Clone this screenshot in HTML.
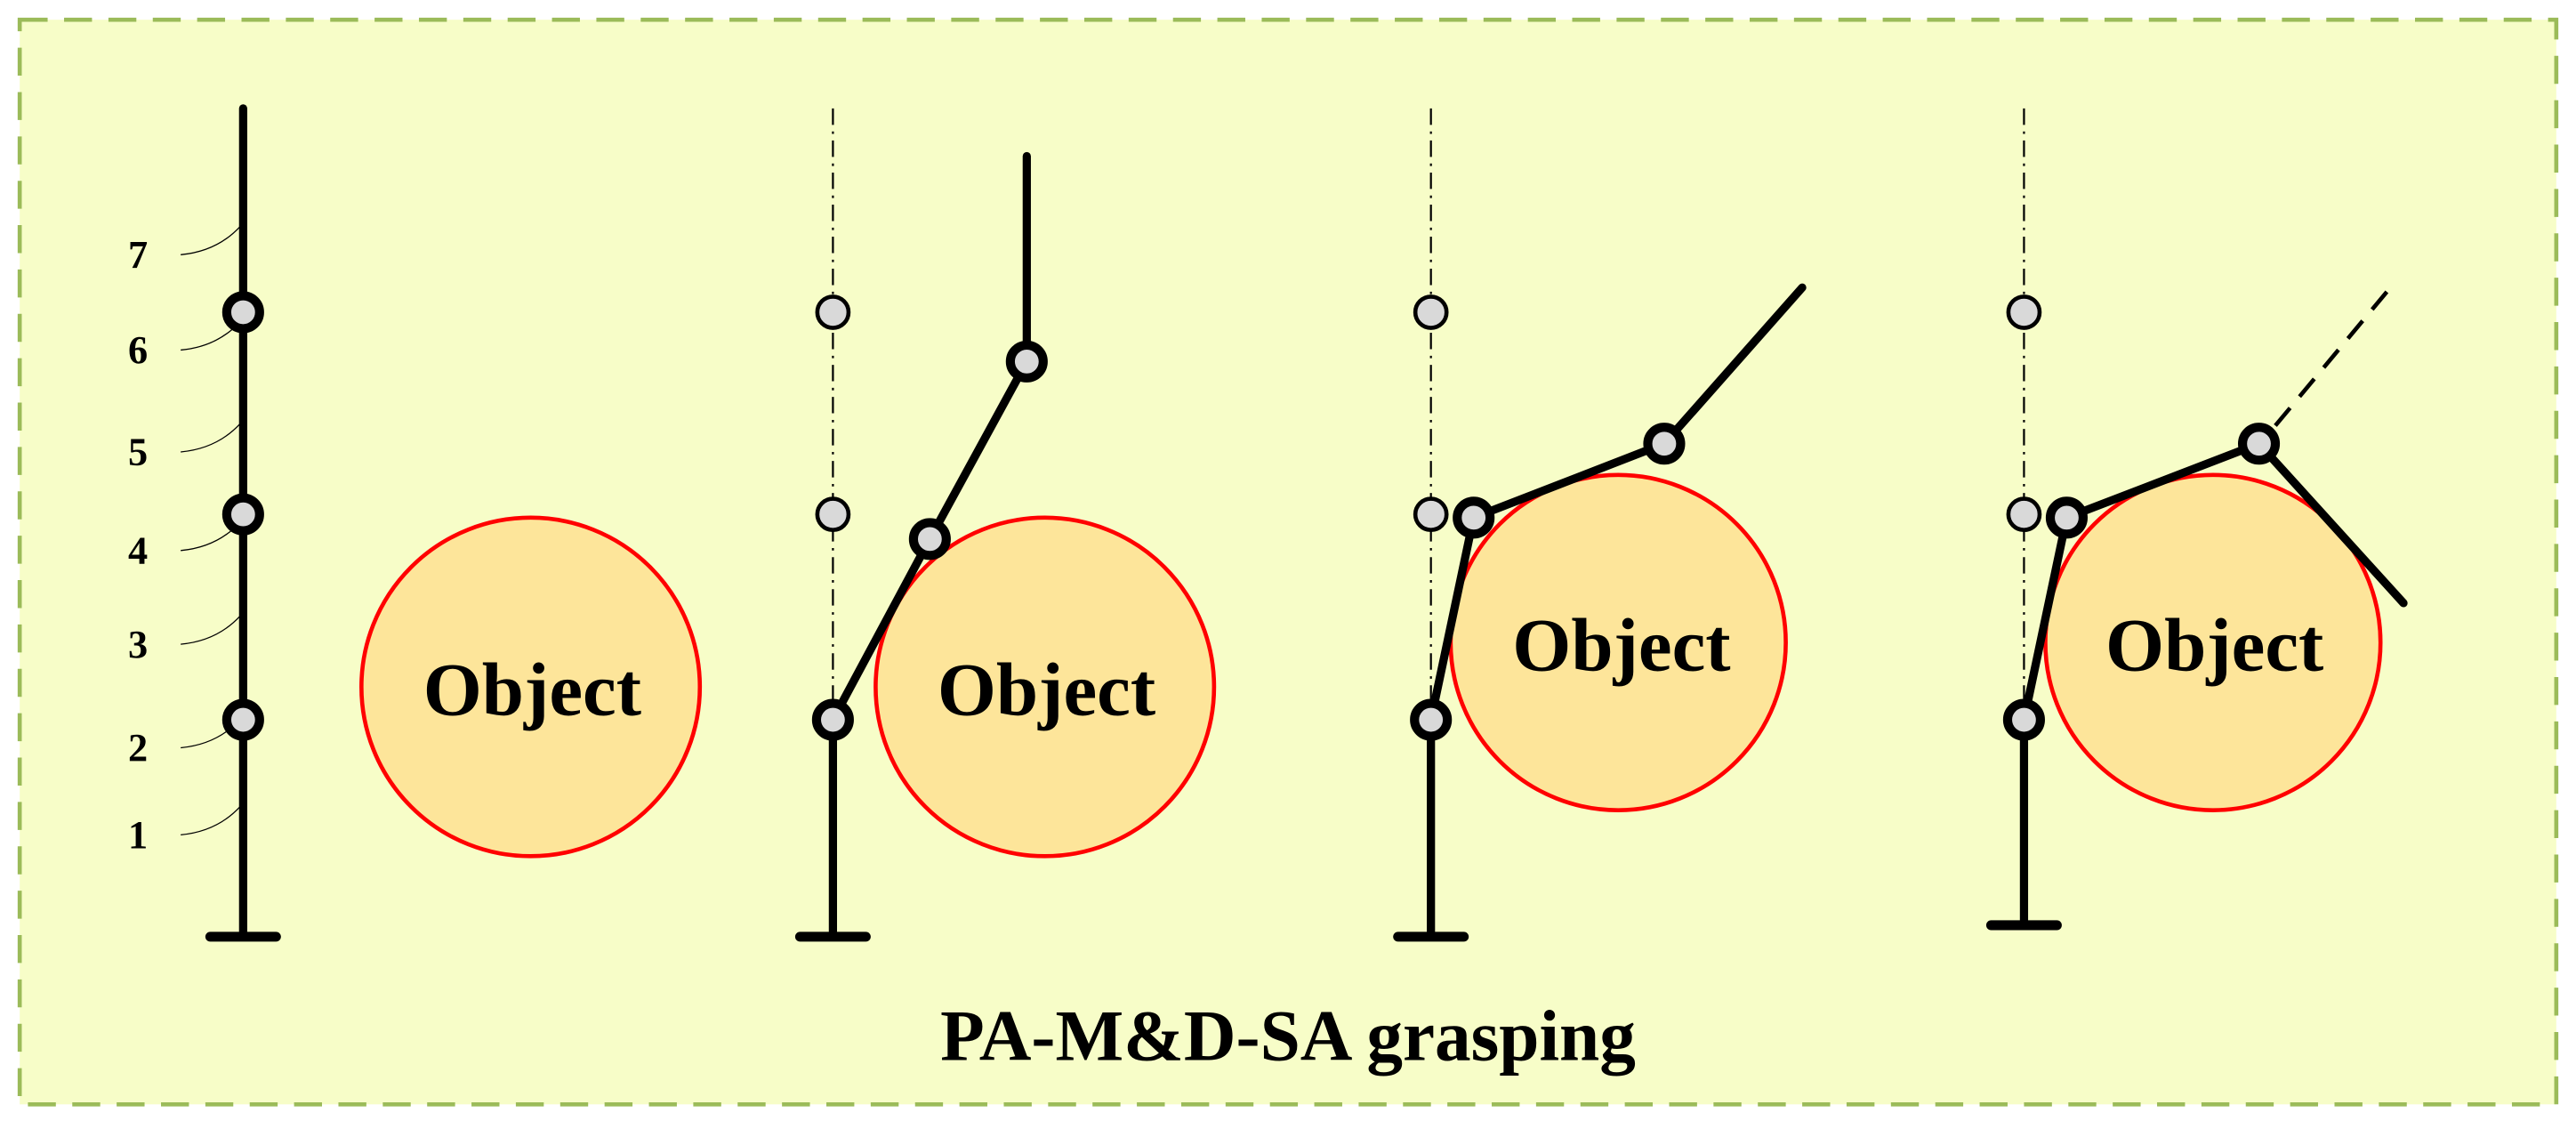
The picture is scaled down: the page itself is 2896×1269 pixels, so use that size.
<!DOCTYPE html>
<html><head><meta charset="utf-8"><style>
html,body{margin:0;padding:0;background:#fff;}
svg{display:block;}
</style></head><body>
<svg width="2896" height="1269" viewBox="0 0 1568 687" preserveAspectRatio="none" xmlns="http://www.w3.org/2000/svg" font-family="'Liberation Serif', serif" font-weight="bold">
<rect x="12" y="12" width="1544" height="660" fill="#f7fdc8" stroke="#9bbb59" stroke-width="2.5" stroke-dasharray="17,10"/>

<!-- Panel 1 -->
<g stroke="#000" fill="none">
<line x1="148" y1="66" x2="148" y2="570" stroke-width="5" stroke-linecap="round"/>
<path d="M128 570 L168 570" stroke-width="6" stroke-linecap="round"/>
<g stroke-width="0.7">
<path d="M110 155 Q132 153 146 138"/>
<path d="M110 213 Q132 211 146 196"/>
<path d="M110 275 Q132 273 146 258"/>
<path d="M110 335 Q132 333 146 318"/>
<path d="M110 392 Q132 390 146 375"/>
<path d="M110 455 Q132 453 146 438"/>
<path d="M110 508 Q132 506 146 491"/>
</g>
</g>
<g font-size="24" text-anchor="middle">
<text x="84" y="163">7</text><text x="84" y="221">6</text><text x="84" y="283">5</text>
<text x="84" y="343">4</text><text x="84" y="400">3</text><text x="84" y="463">2</text><text x="84" y="516">1</text>
</g>
<g fill="#d9d9d9" stroke="#000" stroke-width="5.5">
<circle cx="148" cy="190" r="10"/><circle cx="148" cy="313" r="10"/><circle cx="148" cy="438" r="10"/>
</g>
<circle cx="323" cy="418" r="103" fill="#fde59a" stroke="#f00" stroke-width="2.5"/>
<text x="324" y="435" font-size="46" text-anchor="middle">Object</text>

<!-- Panel 2 -->
<circle cx="636" cy="418" r="103" fill="#fde59a" stroke="#f00" stroke-width="2.5"/>
<text x="637" y="435" font-size="46" text-anchor="middle">Object</text>
<g stroke="#000" fill="none">
<line x1="507" y1="66" x2="507" y2="438" stroke-width="1.2" stroke-dasharray="10,4,1.5,4"/>
<line x1="507" y1="438" x2="507" y2="570" stroke-width="5"/>
<path d="M487 570 L527 570" stroke-width="6" stroke-linecap="round"/>
<polyline points="507,438 566,328 625,220 625,95" stroke-width="5" stroke-linecap="round" stroke-linejoin="round"/>
</g>
<g fill="#d9d9d9" stroke="#000">
<circle cx="507" cy="190" r="9.5" stroke-width="2.5"/><circle cx="507" cy="313" r="9.5" stroke-width="2.5"/>
<circle cx="507" cy="438" r="10" stroke-width="5.5"/><circle cx="566" cy="328" r="10" stroke-width="5.5"/><circle cx="625" cy="220" r="10" stroke-width="5.5"/>
</g>

<!-- Panel 3 -->
<circle cx="985" cy="391" r="102" fill="#fde59a" stroke="#f00" stroke-width="2.5"/>
<text x="987" y="408" font-size="46" text-anchor="middle">Object</text>
<g stroke="#000" fill="none">
<line x1="871" y1="66" x2="871" y2="438" stroke-width="1.2" stroke-dasharray="10,4,1.5,4"/>
<line x1="871" y1="438" x2="871" y2="570" stroke-width="5"/>
<path d="M851 570 L891 570" stroke-width="6" stroke-linecap="round"/>
<polyline points="871,438 897,315 1013,270 1097,175" stroke-width="5" stroke-linecap="round" stroke-linejoin="round"/>
</g>
<g fill="#d9d9d9" stroke="#000">
<circle cx="871" cy="190" r="9.5" stroke-width="2.5"/><circle cx="871" cy="313" r="9.5" stroke-width="2.5"/>
<circle cx="871" cy="438" r="10" stroke-width="5.5"/><circle cx="897" cy="315" r="10" stroke-width="5.5"/><circle cx="1013" cy="270" r="10" stroke-width="5.5"/>
</g>

<!-- Panel 4 -->
<circle cx="1347" cy="391" r="102" fill="#fde59a" stroke="#f00" stroke-width="2.5"/>
<text x="1348" y="408" font-size="46" text-anchor="middle">Object</text>
<g stroke="#000" fill="none">
<line x1="1232" y1="66" x2="1232" y2="438" stroke-width="1.2" stroke-dasharray="10,4,1.5,4"/>
<line x1="1232" y1="438" x2="1232" y2="563" stroke-width="5"/>
<path d="M1212 563 L1252 563" stroke-width="6" stroke-linecap="round"/>
<polyline points="1232,438 1258,315 1375,270 1463,367" stroke-width="5" stroke-linecap="round" stroke-linejoin="round"/>
<line x1="1385" y1="259" x2="1455" y2="175" stroke-width="2.5" stroke-dasharray="14,9"/>
</g>
<g fill="#d9d9d9" stroke="#000">
<circle cx="1232" cy="190" r="9.5" stroke-width="2.5"/><circle cx="1232" cy="313" r="9.5" stroke-width="2.5"/>
<circle cx="1232" cy="438" r="10" stroke-width="5.5"/><circle cx="1258" cy="315" r="10" stroke-width="5.5"/><circle cx="1375" cy="270" r="10" stroke-width="5.5"/>
</g>

<text x="784" y="645" font-size="44" text-anchor="middle">PA-M&amp;D-SA grasping</text>
</svg>
</body></html>
